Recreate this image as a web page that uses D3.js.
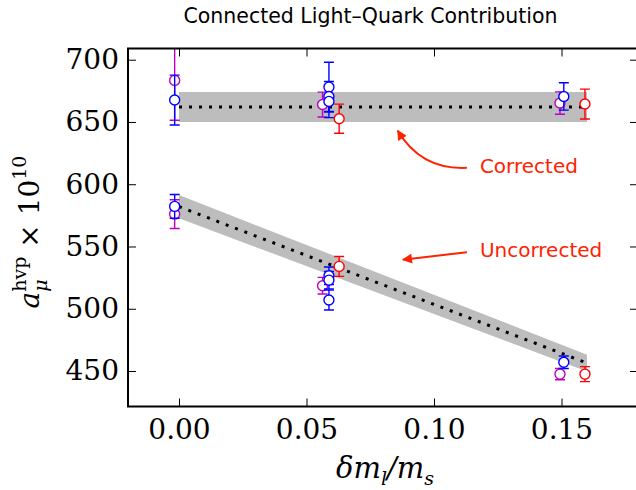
<!DOCTYPE html>
<html>
<head>
<meta charset="utf-8">
<script src="https://cdn.jsdelivr.net/npm/d3@7"></script>
<style>
  body { margin: 0; background: #fff; }
</style>
</head>
<body>
<div id="chart"></div>
<script>
// ticks
var xTicks = [0, 0.05, 0.10, 0.15];
var yTicks = [450, 500, 550, 600, 650, 700];

// magenta points (corrected first three, uncorrected last three)
var magentaX = [-0.0017, 0.0563, 0.1494, -0.0017, 0.0563, 0.1494];
var magentaY = [683.4, 664.0, 665.2, 576.0, 518.5, 447.5];
var magentaErr = [32, 10, 9, 11.5, 6.7, 4.5];

// blue points
var blueX = [-0.0017, 0.0588, 0.0588, 0.0588, 0.1509, -0.0017, 0.0588, 0.0588, 0.0588, 0.1509];
var blueY = [667.6, 678.0, 670.5, 666.5, 670.5, 582.2, 526.5, 523.0, 507.0, 457.0];
var blueErr = [20, 20, 12, 13, 11, 9.5, 7, 7, 8, 5];

// red points
var redX = [0.0628, 0.1592, 0.0628, 0.1592];
var redY = [652.6, 664.4, 534.0, 447.5];
var redErr = [11.7, 12, 8, 6];

// fit bands
var bandX = [0, 0.16];
var correctedMid = [662, 662];
var correctedHalf = [12, 12];
var uncorrectedMid = [582, 456.4];
var uncorrectedHalf = [9.3, 6.7];

var width = 636;
var height = 490;

var svg = d3.select('#chart')
  .append('svg')
  .attr('width', width)
  .attr('height', height)
  .style('font-family', 'DejaVu Sans');

var x = d3.scaleLinear().domain([-0.02, 0.18]).range([128, 638]);
var y = d3.scaleLinear().domain([421.5, 709]).range([406.5, 48.5]);

svg.append('defs').append('clipPath').attr('id', 'plot-clip')
  .append('rect')
  .attr('x', x(-0.02)).attr('y', y(709))
  .attr('width', x(0.18) - x(-0.02)).attr('height', y(421.5) - y(709));

var plot = svg.append('g').attr('clip-path', 'url(#plot-clip)');

var band = function(mid, half){
  return d3.area()
    .x(function(d, i) { return x(bandX[i]); })
    .y0(function(d, i) { return y(mid[i] - half[i]); })
    .y1(function(d, i) { return y(mid[i] + half[i]); })(bandX);
}
var midLine = function(mid){
  return d3.line()
    .x(function(d, i) { return x(bandX[i]); })
    .y(function(d, i) { return y(mid[i]); })(bandX);
}

;[[correctedMid, correctedHalf], [uncorrectedMid, uncorrectedHalf]].forEach(function(b){
  plot.append('path').attr('d', band(b[0], b[1])).attr('fill', '#bdbdbd');
  plot.append('path').attr('d', midLine(b[0]))
    .attr('fill', 'none').attr('stroke', '#000')
    .attr('stroke-width', 3).attr('stroke-dasharray', '3,7');
});

var drawSeries = function(xs, ys, errs, color){
  var pts = xs.map(function(d, i){ return {x: d, y: ys[i], e: errs[i]}; });
  var g = plot.append('g');
  var bars = g.selectAll('g.err').data(pts).enter().append('g')
    .attr('stroke', color).attr('stroke-width', 1.4);
  bars.append('line')
    .attr('x1', function(d){ return x(d.x); }).attr('x2', function(d){ return x(d.x); })
    .attr('y1', function(d){ return y(d.y - d.e); }).attr('y2', function(d){ return y(d.y + d.e); });
  bars.append('line')
    .attr('x1', function(d){ return x(d.x) - 5; }).attr('x2', function(d){ return x(d.x) + 5; })
    .attr('y1', function(d){ return y(d.y + d.e); }).attr('y2', function(d){ return y(d.y + d.e); });
  bars.append('line')
    .attr('x1', function(d){ return x(d.x) - 5; }).attr('x2', function(d){ return x(d.x) + 5; })
    .attr('y1', function(d){ return y(d.y - d.e); }).attr('y2', function(d){ return y(d.y - d.e); });
  g.selectAll('circle').data(pts).enter().append('circle')
    .attr('cx', function(d){ return x(d.x); })
    .attr('cy', function(d){ return y(d.y); })
    .attr('r', 5)
    .attr('fill', '#fff').attr('stroke', color).attr('stroke-width', 1.4);
}

drawSeries(magentaX, magentaY, magentaErr, '#c000c0');
drawSeries(blueX, blueY, blueErr, '#0000ff');
drawSeries(redX, redY, redErr, '#ff0000');

// axes, ticks pointing inward
var serif = 'DejaVu Serif';
var styleAxis = function(g){
  g.select('.domain').remove();
  g.selectAll('.tick line').attr('stroke', '#000').attr('stroke-width', 1);
  g.selectAll('.tick text').attr('font-family', serif).attr('font-size', 28).attr('fill', '#000');
}
svg.append('g').attr('transform', 'translate(0,' + y(421.5) + ')')
  .call(d3.axisBottom(x).tickValues(xTicks).tickFormat(d3.format('.2f'))
    .tickSizeInner(-8).tickSizeOuter(0).tickPadding(13))
  .call(styleAxis);
svg.append('g').attr('transform', 'translate(0,' + y(709) + ')')
  .call(d3.axisTop(x).tickValues(xTicks).tickFormat('').tickSizeInner(-8).tickSizeOuter(0))
  .call(styleAxis);
svg.append('g').attr('transform', 'translate(' + x(-0.02) + ',0)')
  .call(d3.axisLeft(y).tickValues(yTicks).tickFormat(d3.format('d'))
    .tickSizeInner(-8).tickSizeOuter(0).tickPadding(9))
  .call(styleAxis);
svg.append('g').attr('transform', 'translate(' + x(0.18) + ',0)')
  .call(d3.axisRight(y).tickValues(yTicks).tickFormat('').tickSizeInner(-8).tickSizeOuter(0))
  .call(styleAxis);

svg.append('rect')
  .attr('x', x(-0.02)).attr('y', y(709))
  .attr('width', x(0.18) - x(-0.02)).attr('height', y(421.5) - y(709))
  .attr('fill', 'none').attr('stroke', '#000').attr('stroke-width', 2);

// title
svg.append('text')
  .attr('x', 370.5).attr('y', 23)
  .attr('text-anchor', 'middle')
  .attr('font-size', 20.5)
  .text('Connected Light\u2013Quark Contribution');

// x label
var xl = svg.append('text')
  .attr('x', 385).attr('y', 478)
  .attr('text-anchor', 'middle')
  .attr('font-family', serif).attr('font-size', 29).attr('font-style', 'italic');
xl.append('tspan').text('\u03b4m');
xl.append('tspan').attr('font-size', 19).attr('dy', 7).text('l');
xl.append('tspan').attr('dy', -7).text('/m');
xl.append('tspan').attr('font-size', 19).attr('dy', 7).text('s');

// y label, built piece by piece then rotated
var yl = svg.append('g');
var pieces = [
  {t: 'a', size: 28, italic: true, dy: 0},
  {t: '\u03bc', size: 19, italic: true, dy: 8, back: true},
  {t: 'hvp', size: 19, italic: false, dy: -13},
  {t: '\u00a0\u00d7\u00a010', size: 28, italic: false, dy: 0},
  {t: '10', size: 19, italic: false, dy: -13}
];
var cx = 0;
pieces.forEach(function(p){
  var t = yl.append('text')
    .attr('x', cx).attr('y', p.dy)
    .attr('font-family', serif).attr('font-size', p.size)
    .attr('font-style', p.italic ? 'italic' : 'normal')
    .text(p.t);
  if (!p.back) cx += t.node().getComputedTextLength();
});
yl.attr('transform', 'translate(39,' + (232 + cx / 2) + ') rotate(-90)');

// annotations
var red = '#ff2200';
svg.append('defs').append('marker')
  .attr('id', 'head').attr('viewBox', '0 0 10 10')
  .attr('refX', 9).attr('refY', 5)
  .attr('markerWidth', 6).attr('markerHeight', 5)
  .attr('markerUnits', 'strokeWidth')
  .attr('orient', 'auto')
  .append('path').attr('d', 'M0,0 L10,5 L0,10 z').attr('fill', red);

var notes = [
  {label: 'Corrected', tx: 0.118, ty: 609.2, ax: 0.0858, ay: 643, rad: 0.3},
  {label: 'Uncorrected', tx: 0.118, ty: 541.4, ax: 0.0878, ay: 539.4, rad: 0}
];
notes.forEach(function(n){
  svg.append('text')
    .attr('x', x(n.tx)).attr('y', y(n.ty))
    .attr('font-size', 20).attr('fill', red)
    .text(n.label);
  var x1 = x(n.tx) - 13, y1 = y(n.ty) - 5;
  var x2 = x(n.ax), y2 = y(n.ay);
  var mx = (x1 + x2) / 2, my = (y1 + y2) / 2;
  var qx = mx + n.rad * (y2 - y1), qy = my - n.rad * (x2 - x1);
  svg.append('path')
    .attr('d', 'M' + x1 + ',' + y1 + ' Q' + qx + ',' + qy + ' ' + x2 + ',' + y2)
    .attr('fill', 'none').attr('stroke', red).attr('stroke-width', 2)
    .attr('marker-end', 'url(#head)');
});
</script>
</body>
</html>
